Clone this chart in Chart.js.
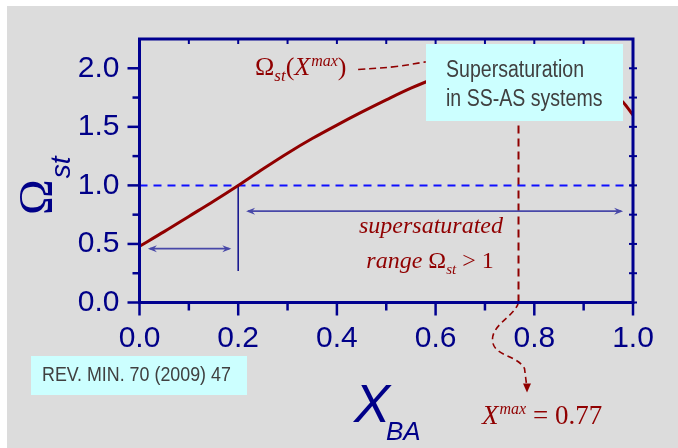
<!DOCTYPE html>
<html>
<head>
<meta charset="utf-8">
<script src="https://cdn.jsdelivr.net/npm/chart.js@4/dist/chart.umd.min.js"></script>
<style>
html,body{margin:0;padding:0;background:#fff;}
#c{display:block;}
</style>
</head>
<body>
<canvas id="c" width="678" height="448"></canvas>
<script>
// ---- data ----
const X_VALUES = [0, 0.05, 0.1, 0.15, 0.2, 0.25, 0.3, 0.35, 0.4, 0.45, 0.5, 0.55, 0.6, 0.65, 0.7, 0.77, 0.84, 0.9, 0.95, 0.98, 1.0];
const OMEGA_VALUES = [0.48, 0.605, 0.735, 0.865, 1.00, 1.14, 1.275, 1.40, 1.515, 1.625, 1.73, 1.83, 1.915, 1.98, 2.025, 2.05, 2.01, 1.92, 1.81, 1.71, 1.60];
const X_TICKS = [0, 0.2, 0.4, 0.6, 0.8, 1.0];
const X_MINOR = [0.1, 0.3, 0.5, 0.7, 0.9];
const Y_TICKS = [0, 0.5, 1.0, 1.5, 2.0];
const Y_MINOR = [0.25, 0.75, 1.25, 1.75];
const X_RANGE = [0, 1];
const Y_RANGE = [0, 2.25];
const OMEGA_THRESHOLD = 1.0;       // dashed line
const X_CROSS = 0.2;               // where Omega = 1
const X_CROSS_LINE_BOTTOM = 0.27;  // lower end of marker line
const X_MAX = 0.768;               // labelled X^max = 0.77
const LEFT_ARROW = {from: 0.017, to: 0.186, y: 0.46};
const RIGHT_ARROW = {from: 0.216, to: 0.98, y: 0.78};
const LEADER_X = [0.443, 0.52, 0.58];
const LEADER_Y = [1.99, 2.015, 2.055];

// ---- styles ----
const GRAY = '#dcdcdc';
const AXIS = '#000090';
const NAVY = '#000088';
const RED = '#900000';
const BLUE_DASH = '#1010ff';
const ARROW = '#4848a8';
const CYAN = '#ccffff';
const BOXTEXT = '#404040';
const SANS = "'Liberation Sans', Arial, sans-serif";
const SERIF = "'Liberation Serif', 'Times New Roman', serif";

const pts = (xs, ys) => xs.map((x, i) => ({x, y: ys[i]}));

function runs(ctx, x, y, parts, align) {
  let total = 0;
  parts.forEach(p => { ctx.font = p.f; p.w = ctx.measureText(p.t).width; total += p.w + (p.gap || 0); });
  let cx = align === 'center' ? x - total / 2 : x;
  parts.forEach(p => {
    ctx.font = p.f;
    ctx.fillText(p.t, cx, y + (p.dy || 0));
    cx += p.w + (p.gap || 0);
  });
}

function narrowText(ctx, text, x, y, size) {
  ctx.save();
  ctx.translate(x, y);
  ctx.scale(0.85, 1);
  ctx.font = size + 'px ' + SANS;
  ctx.fillText(text, 0, 0);
  ctx.restore();
}

const deco = {
  id: 'deco',
  beforeDraw(chart) {
    const c = chart.ctx;
    c.save();
    c.fillStyle = '#fff';
    c.fillRect(0, 0, chart.width, chart.height);
    c.fillStyle = GRAY;
    c.fillRect(7, 6, chart.width - 7, chart.height - 6);
    c.restore();
  },
  afterDatasetsDraw(chart) {
    const c = chart.ctx;
    const xs = chart.scales.x, ys = chart.scales.y;
    const a = chart.chartArea;
    c.save();

    // arrows
    const dbl = (ar) => {
      const x1 = xs.getPixelForValue(ar.from), x2 = xs.getPixelForValue(ar.to), y = ys.getPixelForValue(ar.y);
      c.strokeStyle = ARROW; c.fillStyle = ARROW; c.lineWidth = 1.6;
      c.beginPath(); c.moveTo(x1 + 2, y); c.lineTo(x2 - 2, y); c.stroke();
      [[x1, 1], [x2, -1]].forEach(([x, d]) => {
        c.beginPath(); c.moveTo(x, y); c.lineTo(x + d * 9, y - 3.5); c.lineTo(x + d * 6, y); c.lineTo(x + d * 9, y + 3.5); c.closePath(); c.fill();
      });
    };
    dbl(LEFT_ARROW); dbl(RIGHT_ARROW);

    // wavy dashed pointer below the axis
    const xm = xs.getPixelForValue(X_MAX), yb = a.bottom;
    c.strokeStyle = RED; c.lineWidth = 1.6; c.setLineDash([6, 4]);
    c.beginPath();
    c.moveTo(xm, yb);
    c.bezierCurveTo(xm - 4, yb + 14, xm - 27, yb + 22, xm - 26, yb + 38);
    c.bezierCurveTo(xm - 25, yb + 54, xm - 2, yb + 52, xm + 6, yb + 66);
    c.lineTo(xm + 8, yb + 82);
    c.stroke();
    c.setLineDash([]);
    c.fillStyle = RED;
    c.beginPath(); c.moveTo(xm + 8.5, yb + 90); c.lineTo(xm + 4.5, yb + 81); c.lineTo(xm + 12.5, yb + 81); c.closePath(); c.fill();

    // info box
    c.fillStyle = CYAN;
    c.fillRect(426, 44, 197, 77);
    c.fillStyle = BOXTEXT;
    c.textBaseline = 'alphabetic';
    c.textAlign = 'left';
    narrowText(c, 'Supersaturation', 446, 77, 23);
    narrowText(c, 'in SS-AS systems', 446, 106, 23);

    // reference box
    c.fillStyle = CYAN;
    c.fillRect(31, 356, 216, 39);
    c.fillStyle = BOXTEXT;
    narrowText(c, 'REV. MIN. 70 (2009) 47', 42, 381, 21);

    // frame
    c.strokeStyle = AXIS; c.lineWidth = 3;
    c.strokeRect(a.left, a.top, a.right - a.left, a.bottom - a.top);
    c.lineWidth = 2.5;
    const line = (x1, y1, x2, y2) => { c.beginPath(); c.moveTo(x1, y1); c.lineTo(x2, y2); c.stroke(); };
    Y_TICKS.forEach(v => { const y = ys.getPixelForValue(v); line(a.left - 12, y, a.left, y); });
    Y_MINOR.forEach(v => { const y = ys.getPixelForValue(v); line(a.left - 7, y, a.left, y); });
    X_TICKS.forEach(v => { const x = xs.getPixelForValue(v); line(x, a.bottom, x, a.bottom + 13); });
    X_MINOR.forEach(v => { const x = xs.getPixelForValue(v); line(x, a.bottom, x, a.bottom + 8); });
    c.lineWidth = 2;
    X_TICKS.concat(X_MINOR).forEach(v => { const x = xs.getPixelForValue(v); line(x, a.top, x, a.top + 5); });
    Y_TICKS.concat(Y_MINOR).forEach(v => { const y = ys.getPixelForValue(v); line(a.right - 4, y, a.right + 4, y); });

    // annotations in dark red
    c.fillStyle = RED;
    runs(c, 255, 75, [
      {t: 'Ω', f: '26px ' + SERIF},
      {t: 'st', f: 'italic 17px ' + SERIF, dy: 6},
      {t: '(', f: '26px ' + SERIF},
      {t: 'X', f: 'italic 26px ' + SERIF, gap: 1},
      {t: 'max', f: 'italic 16px ' + SERIF, dy: -9},
      {t: ')', f: '26px ' + SERIF}
    ]);
    c.font = 'italic 24px ' + SERIF;
    c.textAlign = 'center';
    c.fillText('supersaturated', 431, 233);
    c.textAlign = 'left';
    runs(c, 430, 268, [
      {t: 'range ', f: 'italic 24px ' + SERIF},
      {t: 'Ω', f: '24px ' + SERIF},
      {t: 'st', f: 'italic 15px ' + SERIF, dy: 6},
      {t: ' > 1', f: '24px ' + SERIF}
    ], 'center');
    runs(c, 482, 424, [
      {t: 'X', f: 'italic 27px ' + SERIF, gap: 1},
      {t: 'max', f: 'italic 16px ' + SERIF, dy: -10},
      {t: ' = 0.77', f: '27px ' + SERIF}
    ]);

    // axis titles
    c.fillStyle = NAVY;
    c.font = 'italic 54px ' + SANS;
    c.fillText('X', 354, 422);
    c.font = 'italic 26px ' + SANS;
    c.fillText('BA', 386, 440);

    c.translate(52, 215);
    c.rotate(-Math.PI / 2);
    c.font = '48px ' + SERIF;
    c.fillText('Ω', 0, 0);
    const w = c.measureText('Ω').width;
    c.font = 'italic 28px ' + SANS;
    c.fillText('st', w + 1, 18);
    c.restore();
  }
};

new Chart(document.getElementById('c'), {
  type: 'line',
  data: {
    datasets: [
      {data: pts(X_VALUES, OMEGA_VALUES), borderColor: RED, borderWidth: 3, pointRadius: 0, cubicInterpolationMode: 'monotone'},
      {data: pts(X_RANGE, [OMEGA_THRESHOLD, OMEGA_THRESHOLD]), borderColor: BLUE_DASH, borderWidth: 2, borderDash: [8, 6], pointRadius: 0},
      {data: pts([X_CROSS, X_CROSS], [OMEGA_THRESHOLD, X_CROSS_LINE_BOTTOM]), borderColor: '#1a1a90', borderWidth: 1.6, pointRadius: 0},
      {data: pts([X_MAX, X_MAX], [0, 1.7]), borderColor: RED, borderWidth: 2, borderDash: [8, 5], pointRadius: 0},
      {data: pts(LEADER_X, LEADER_Y), borderColor: RED, borderWidth: 1.6, borderDash: [7, 4], pointRadius: 0, tension: 0.4}
    ]
  },
  options: {
    responsive: false,
    animation: false,
    devicePixelRatio: 1,
    layout: {padding: {top: 39, right: 45, left: 0, bottom: 0}},
    plugins: {legend: {display: false}, tooltip: {enabled: false}},
    scales: {
      x: {
        type: 'linear', min: X_RANGE[0], max: X_RANGE[1],
        afterFit: s => { s.height = 145.5; },
        afterBuildTicks: s => { s.ticks = X_TICKS.map(v => ({value: v})); },
        grid: {display: false, drawTicks: false, tickLength: 0},
        border: {display: false},
        ticks: {color: NAVY, font: {family: SANS, size: 30}, padding: 18, maxRotation: 0, autoSkip: false, callback: v => Number(v).toFixed(1)}
      },
      y: {
        type: 'linear', min: Y_RANGE[0], max: Y_RANGE[1],
        afterFit: s => { s.width = 139.5; },
        afterBuildTicks: s => { s.ticks = Y_TICKS.map(v => ({value: v})); },
        grid: {display: false, drawTicks: false, tickLength: 0},
        border: {display: false},
        ticks: {color: NAVY, font: {family: SANS, size: 30}, padding: 20, autoSkip: false, callback: v => Number(v).toFixed(1)}
      }
    }
  },
  plugins: [deco]
});
</script>
</body>
</html>
